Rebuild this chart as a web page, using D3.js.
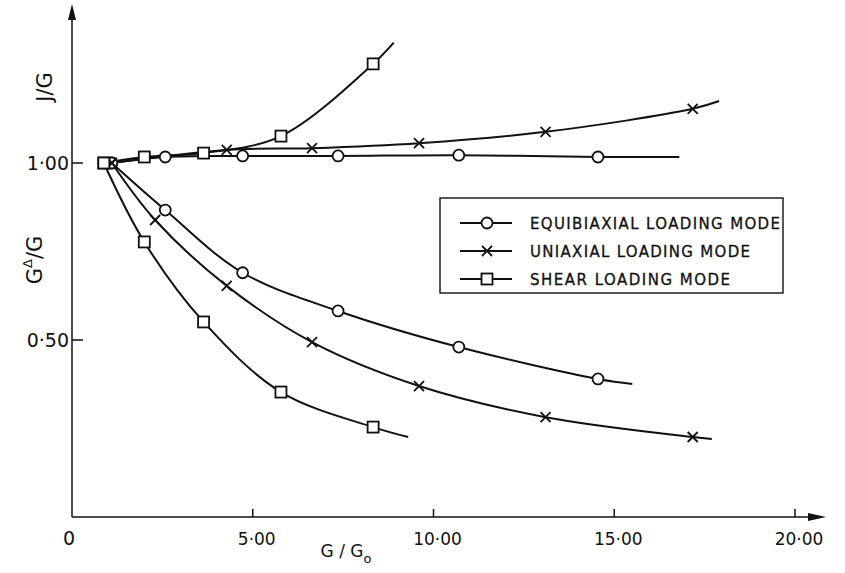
<!DOCTYPE html>
<html lang="en"><head>
<meta charset="utf-8">
<title>G/G0 loading modes</title>
<script src="https://cdn.jsdelivr.net/npm/d3@7"></script>
<style>
  body { margin: 0; background: #fff; }
  text { font-family: "DejaVu Sans", sans-serif; fill: #111; }
</style>
</head>
<body>
<script>
// data (G/G0 on x, ratio on y)
var equiX   = [1.1, 2.58, 4.72, 7.36, 10.7, 14.55];
var equiJ   = [1.0, 1.017, 1.02, 1.02, 1.022, 1.017];
var equiGd  = [1.0, 0.867, 0.69, 0.582, 0.48, 0.39];
var equiJTail  = [16.8, 1.017];
var equiGdTail = [15.5, 0.376];

var uniX    = [1.1, 2.3, 4.28, 6.64, 9.6, 13.1, 17.17];
var uniJ    = [1.0, null, 1.037, 1.042, 1.056, 1.088, 1.153];
var uniGd   = [1.0, 0.839, 0.653, 0.494, 0.37, 0.282, 0.226];
var uniJTail  = [17.9, 1.175];
var uniGdTail = [17.7, 0.22];

var shearX  = [0.88, 2.0, 3.64, 5.78, 8.33];
var shearJ  = [1.0, 1.017, 1.028, 1.076, 1.28];
var shearGd = [1.0, 0.777, 0.551, 0.353, 0.254];
var shearJTail  = [8.9, 1.34];
var shearGdTail = [9.3, 0.226];

var xTicks = [5, 10, 15, 20];
var xTickLabels = ["5·00", "10·00", "15·00", "20·00"];
var yTicks = [0.5, 1.0];
var yTickLabels = ["0·50", "1·00"];
var legendNames = ["EQUIBIAXIAL LOADING MODE", "UNIAXIAL LOADING MODE", "SHEAR LOADING MODE"];

var w = 845, h = 573;
var svg = d3.select("body").append("svg").attr("width", w).attr("height", h);

var x = d3.scaleLinear().domain([0, 20]).range([72, 795]);
var y = d3.scaleLinear().domain([0, 1]).range([517, 163]);

// axes
var ax = svg.append("g").attr("stroke", "#111").attr("stroke-width", 1.5);
ax.append("line").attr("x1", x(0)).attr("y1", y(0)).attr("x2", x(0)).attr("y2", 10);
ax.append("line").attr("x1", x(0)).attr("y1", y(0)).attr("x2", 818).attr("y2", y(0));
svg.append("path").attr("d", "M" + x(0) + ",4 L" + (x(0) - 4) + ",20 L" + (x(0) + 4) + ",20 Z").attr("fill", "#111");
svg.append("path").attr("d", "M826," + y(0) + " L808," + (y(0) - 4) + " L808," + (y(0) + 4) + " Z").attr("fill", "#111");

ax.selectAll(".xt").data(xTicks).enter().append("line")
  .attr("x1", function(d) { return x(d); }).attr("x2", function(d) { return x(d); })
  .attr("y1", y(0)).attr("y2", y(0) - 8);
ax.selectAll(".yt").data(yTicks).enter().append("line")
  .attr("x1", x(0)).attr("x2", x(0) + 11)
  .attr("y1", function(d) { return y(d); }).attr("y2", function(d) { return y(d); });

svg.selectAll(".xl").data(xTicks).enter().append("text")
  .text(function(d, i) { return xTickLabels[i]; })
  .attr("x", function(d) { return x(d) + 4; })
  .attr("y", y(0) + 28)
  .attr("text-anchor", "middle")
  .attr("font-size", 17);
svg.selectAll(".yl").data(yTicks).enter().append("text")
  .text(function(d, i) { return yTickLabels[i]; })
  .attr("x", x(0) - 3)
  .attr("y", function(d) { return y(d) + 7; })
  .attr("text-anchor", "end")
  .attr("font-size", 19);
svg.append("text").text("0").attr("x", x(0) - 3).attr("y", y(0) + 28)
  .attr("text-anchor", "middle").attr("font-size", 19);

// axis titles
var xt = svg.append("text").attr("x", 346).attr("y", 557).attr("text-anchor", "middle").attr("font-size", 17);
xt.append("tspan").text("G / G");
xt.append("tspan").text("o").attr("font-size", 13).attr("dy", 6);

svg.append("text").text("J/G").attr("transform", "translate(52,87) rotate(-90)")
  .attr("text-anchor", "middle").attr("font-size", 21);
var gt = svg.append("text").attr("transform", "translate(42,260) rotate(-90)")
  .attr("text-anchor", "middle").attr("font-size", 21);
gt.append("tspan").text("G");
gt.append("tspan").text("Δ").attr("font-size", 13).attr("dy", -10);
gt.append("tspan").text("/G").attr("dy", 10);

// curves
function pts(xs, ys, tail) {
  var p = [];
  xs.forEach(function(v, i) { if (ys[i] != null) p.push([v, ys[i]]); });
  p.push(tail);
  return p;
}
var series = [
  { kind: "circle", xs: equiX, ys: equiJ, tail: equiJTail },
  { kind: "circle", xs: equiX, ys: equiGd, tail: equiGdTail },
  { kind: "cross", xs: uniX, ys: uniJ, tail: uniJTail },
  { kind: "cross", xs: uniX, ys: uniGd, tail: uniGdTail },
  { kind: "square", xs: shearX, ys: shearJ, tail: shearJTail },
  { kind: "square", xs: shearX, ys: shearGd, tail: shearGdTail }
];

var line = d3.line()
  .x(function(d) { return x(d[0]); })
  .y(function(d) { return y(d[1]); })
  .curve(d3.curveCatmullRom.alpha(0.5));

svg.selectAll(".curve").data(series).enter().append("path")
  .attr("d", function(s) { return line(pts(s.xs, s.ys, s.tail)); })
  .attr("fill", "none").attr("stroke", "#111").attr("stroke-width", 2);

function marker(g, kind, cx, cy) {
  if (kind === "circle") {
    g.append("circle").attr("cx", cx).attr("cy", cy).attr("r", 5.5)
      .attr("fill", "#fff").attr("stroke", "#111").attr("stroke-width", 1.8);
  } else if (kind === "square") {
    g.append("rect").attr("x", cx - 5.5).attr("y", cy - 5.5).attr("width", 11).attr("height", 11)
      .attr("fill", "#fff").attr("stroke", "#111").attr("stroke-width", 1.8);
  } else {
    g.append("path").attr("d", "M" + (cx - 5) + "," + (cy - 5) + "L" + (cx + 5) + "," + (cy + 5) +
      "M" + (cx - 5) + "," + (cy + 5) + "L" + (cx + 5) + "," + (cy - 5))
      .attr("stroke", "#111").attr("stroke-width", 1.8);
  }
}

var mg = svg.append("g");
series.forEach(function(s) {
  s.xs.forEach(function(v, i) {
    if (s.ys[i] != null) marker(mg, s.kind, x(v), y(s.ys[i]));
  });
});

// legend
var lg = svg.append("g");
lg.append("rect").attr("x", 440).attr("y", 198).attr("width", 343).attr("height", 95)
  .attr("fill", "#fff").attr("stroke", "#111").attr("stroke-width", 1.4);
var kinds = ["circle", "cross", "square"];
var textLen = [250, 220, 200];
legendNames.forEach(function(name, i) {
  var ry = 223 + i * 28;
  lg.append("line").attr("x1", 460).attr("x2", 512).attr("y1", ry).attr("y2", ry)
    .attr("stroke", "#111").attr("stroke-width", 1.8);
  marker(lg, kinds[i], 487, ry);
  lg.append("text").text(name).attr("x", 530).attr("y", ry + 6)
    .attr("font-size", 15).attr("stroke", "#111").attr("stroke-width", 0.3)
    .attr("textLength", textLen[i]).attr("lengthAdjust", "spacing");
});
</script>
</body></html>
